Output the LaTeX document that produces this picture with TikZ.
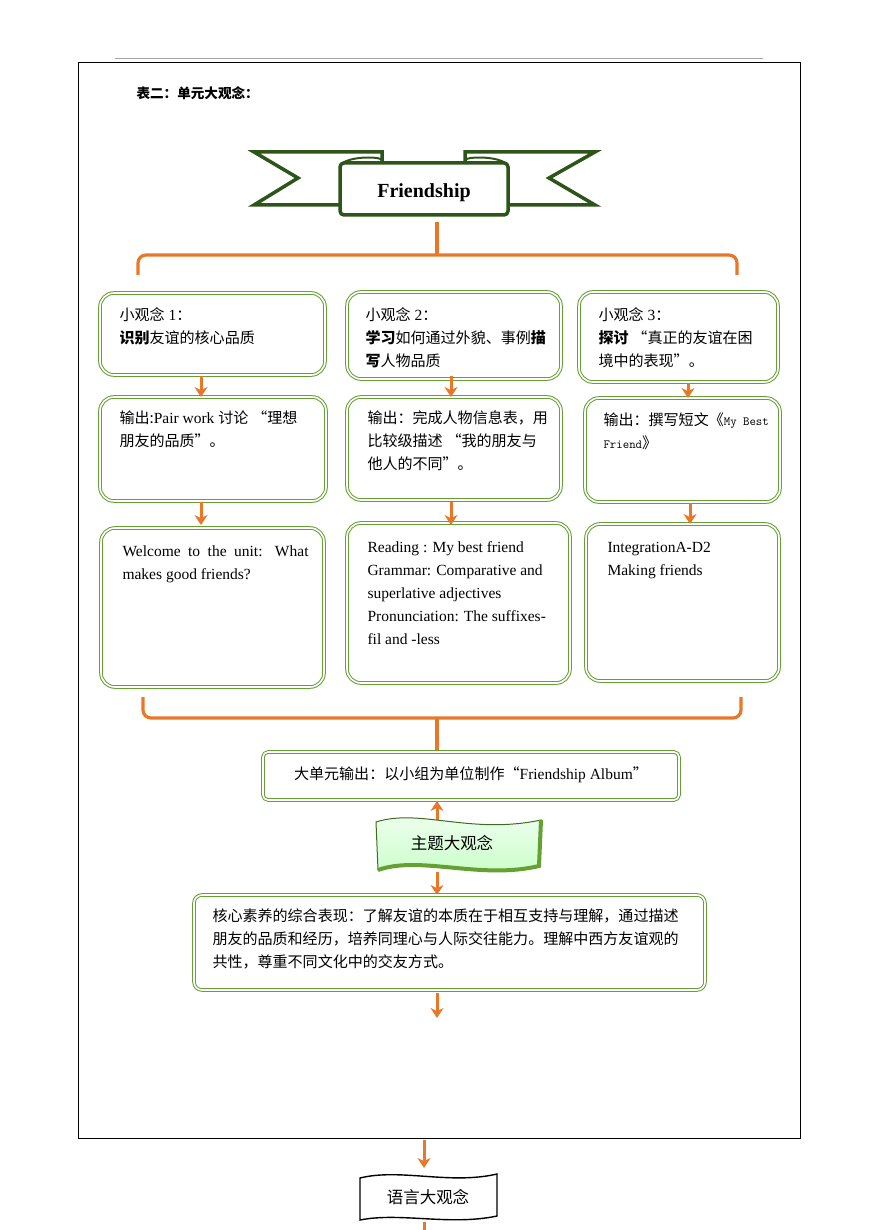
\documentclass[tikz,border=0pt]{standalone}
\usepackage{fontspec}
\setmainfont{Liberation Serif}
\newfontfamily\cjk{Noto Sans CJK SC}[Scale=0.97]
\newcommand{\zh}[1]{{\cjk #1}}
\usetikzlibrary{arrows.meta}

\definecolor{boxgreen}{RGB}{100,160,50}
\definecolor{darkgreen}{RGB}{45,85,25}
\definecolor{arroworange}{RGB}{232,120,40}

\tikzset{
  idea/.style={draw=boxgreen, double=white, double distance=1.6pt, line width=1pt, rounded corners=14pt},
  txt/.style={anchor=north west, align=left, font=\fontsize{15.5}{23}\selectfont},
  flow/.style={draw=arroworange, line width=3pt, -{Stealth[length=10pt,width=13pt]}},
  brace/.style={draw=arroworange, line width=3.2pt, rounded corners=8pt},
}

\begin{document}
\begin{tikzpicture}[x=1pt, y=-1pt]
\useasboundingbox (0,0) rectangle (870,1230);

% page frame
\draw[gray!70, line width=0.8pt] (115,58) -- (763,58);
\draw[line width=0.8pt] (78,62) rectangle (800,1138);
\node[anchor=west, font=\fontsize{14}{16}\selectfont\bfseries] (title) at (133,93) {\zh{表二：单元大观念：}};

% ribbon banner
\draw[darkgreen, line width=3.5pt, fill=white] (382,152) -- (254,152) -- (298,178) -- (254,205) -- (382,205) -- cycle;
\draw[darkgreen, line width=3.5pt, fill=white] (465,152) -- (595,152) -- (549,178) -- (595,205) -- (465,205) -- cycle;
\draw[darkgreen, line width=3.5pt, fill=white, rounded corners=4pt] (340,163) rectangle (508,215);
\draw[darkgreen, line width=2pt] (340,166) .. controls (345,156) and (380,156) .. (382,160);
\draw[darkgreen, line width=2pt] (508,166) .. controls (503,156) and (468,156) .. (465,160);
\node[font=\fontsize{20}{24}\selectfont\bfseries] (theme) at (424,193) {Friendship};

% top brace
\coordinate (bt) at (437,222);
\draw[brace] (138,275) -- (138,255) -- (737,255) -- (737,275);
\draw[brace] (bt) -- (437,255);

% row 1
\draw[idea] (100,293) rectangle (325,375);
\draw[idea] (347,292) rectangle (561,379);
\draw[idea] (579,292) rectangle (778,382);
\node[txt] (a1) at (116,304) {\zh{小观念} 1\zh{：}\\\zh{\bfseries 识别}\zh{友谊的核心品质}};
\node[txt] (b1) at (362,304) {\zh{小观念} 2\zh{：}\\\zh{\bfseries 学习}\zh{如何通过外貌、事例}\zh{\bfseries 描}\\\zh{\bfseries 写}\zh{人物品质}};
\node[txt] (c1) at (595,304) {\zh{小观念} 3\zh{：}\\\zh{\bfseries 探讨} \zh{“真正的友谊在困}\\\zh{境中的表现”。}};

% row 2
\draw[idea] (100,397) rectangle (326,501);
\draw[idea] (347,397) rectangle (561,500);
\draw[idea] (585,398) rectangle (780,502);
\node[txt] (a2) at (116,407) {\zh{输出:}Pair work \zh{讨论} \zh{“理想}\\\zh{朋友的品质”。}};
\node[txt] (b2) at (364,407) {\zh{输出：完成人物信息表，用}\\\zh{比较级描述} \zh{“我的朋友与}\\\zh{他人的不同”。}};
\node[txt] (c2) at (600,409) {\zh{输出：撰写短文《}{\fontsize{12.5}{23}\selectfont\texttt{My Best}}\\{\fontsize{12.5}{23}\selectfont\texttt{Friend}}\zh{》}};

% row 3
\draw[idea] (101,528) rectangle (324,687);
\draw[idea] (347,523) rectangle (570,683);
\draw[idea] (586,524) rectangle (779,681);
\node[txt, text width=186pt, align=justify] (a3) at (119,542) {Welcome to the unit: What makes good friends?};
\node[txt] (b3) at (364,538) {Reading : My best friend\\Grammar: Comparative and\\superlative adjectives\\Pronunciation: The suffixes-\\fil and -less};
\node[txt] (c3) at (604,539) {IntegrationA-D2\\Making friends};

% arrows between rows
\foreach \x in {201,451} {
  \draw[flow] (\x,376) -- (\x,397);
  \draw[flow] (\x,502) -- (\x,525);
}
\draw[flow] (688,383) -- (688,398);
\draw[flow] (690,503) -- (690,524);

% bottom brace
\draw[brace] (143,697) -- (143,718) -- (741,718) -- (741,697);
\draw[brace] (437,718) -- (437,750);

% unit output
\draw[idea, rounded corners=5pt] (263,752) rectangle (679,800);
\node (out) at (471,775) {\fontsize{15.5}{16}\selectfont\zh{大单元输出：以小组为单位制作}\zh{“}Friendship Album\zh{”}};

% wavy banner
\draw[flow] (437,822) -- (437,801);
\draw[darkgreen!70!boxgreen, line width=1pt, top color=green!5!white, bottom color=green!22!white]
  (376,822) .. controls (420,808) and (470,835) .. (541,820)
  -- (539,866) .. controls (480,880) and (420,855) .. (378,870) -- cycle;
\draw[boxgreen, line width=4pt] (378,870) .. controls (420,855) and (480,880) .. (539,866) -- (541,820);
\node[font=\fontsize{17}{18}\selectfont] (core) at (452,843) {\zh{主题大观念}};
\draw[flow] (437,872) -- (437,895);

% core literacy
\draw[idea, rounded corners=8pt] (194,895) rectangle (705,990);
\node[txt, text width=490pt] (lit) at (209,905) {\zh{核心素养的综合表现：了解友谊的本质在于相互支持与理解，通过描述}\\\zh{朋友的品质和经历，培养同理心与人际交往能力。理解中西方友谊观的}\\\zh{共性，尊重不同文化中的交友方式。}};
\draw[flow] (437,993) -- (437,1018);

% language banner
\draw[flow] (424,1140) -- (424,1168);
\draw[black, line width=1.4pt, fill=white]
  (360,1178) .. controls (400,1168) and (450,1185) .. (497,1174)
  -- (497,1216) .. controls (450,1226) and (400,1212) .. (360,1220) -- cycle;
\node[font=\fontsize{17}{18}\selectfont] (lang) at (428,1197) {\zh{语言大观念}};
\draw[arroworange, line width=3pt] (424,1222) -- (424,1230);
\end{tikzpicture}
\end{document}
